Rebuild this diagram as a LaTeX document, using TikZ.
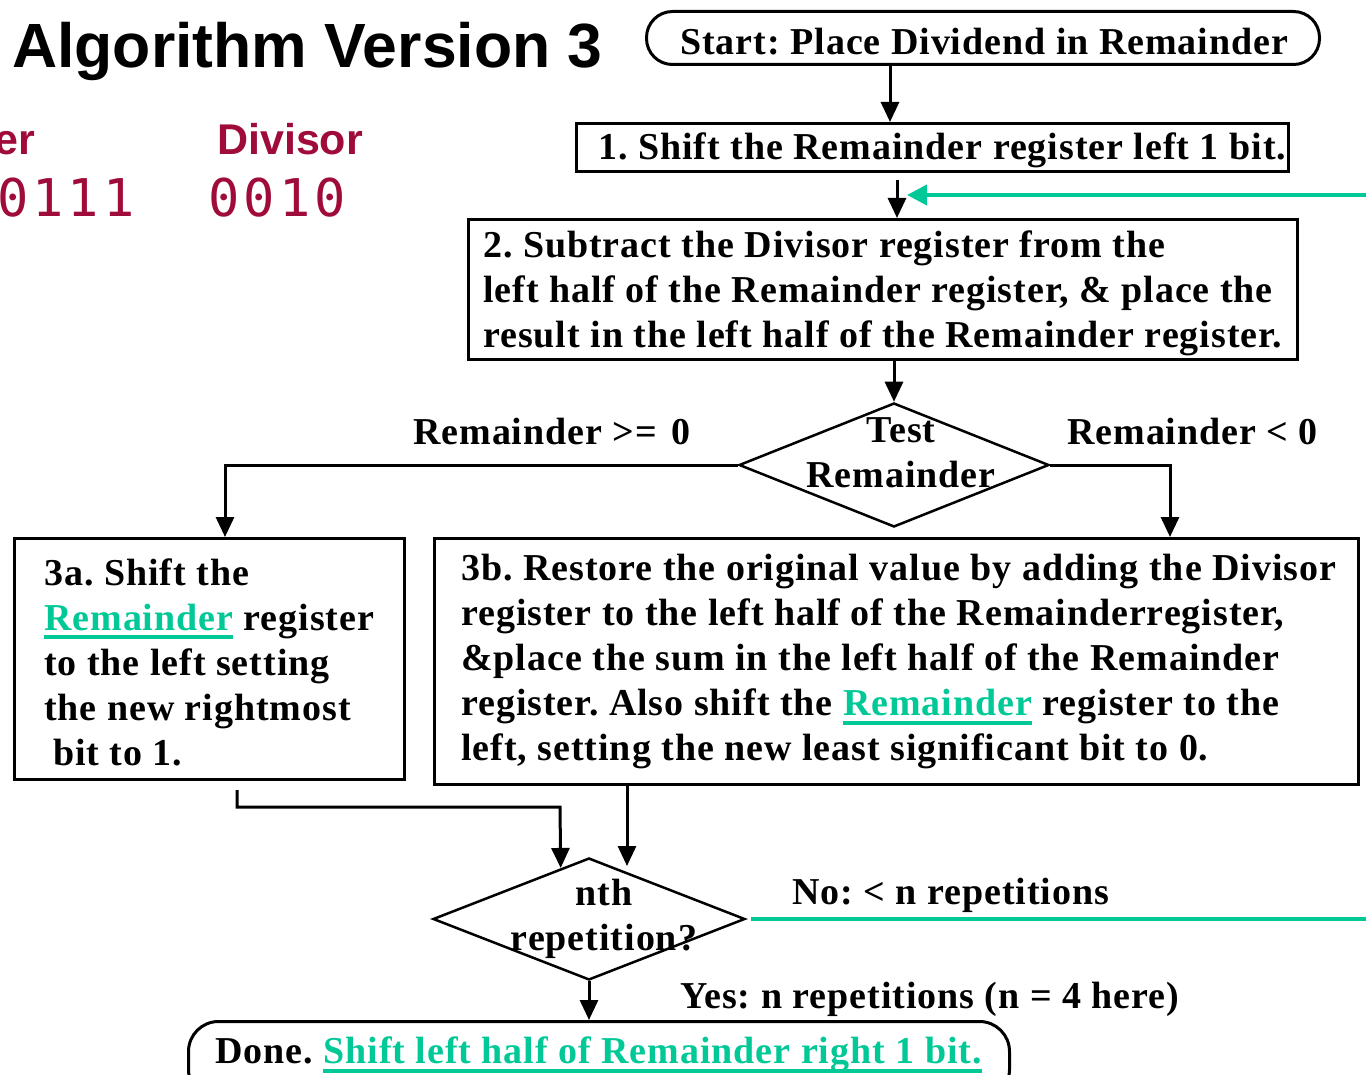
\documentclass[tikz,border=0pt]{standalone}
\usepackage{fontspec}
\setmainfont{Liberation Serif}
\newfontfamily\bodyfam[LetterSpace=2.5]{Liberation Serif}
\newfontfamily\headfont{Liberation Sans}
\newfontfamily\digitfont[LetterSpace=8]{DejaVu Sans Mono}
\usetikzlibrary{shapes.geometric,arrows.meta,calc}
\definecolor{grn}{RGB}{0,200,150}
\definecolor{regred}{RGB}{160,12,58}
% green text with a thick rule underneath
\newsavebox{\ulbox}
\newcommand{\grnul}[1]{{\color{grn}\sbox{\ulbox}{#1}\rlap{\rule[-9pt]{\wd\ulbox}{4pt}}\usebox{\ulbox}}}
\newcommand{\bodyfont}{\fontsize{38}{45}\selectfont\bodyfam\bfseries\frenchspacing}
\begin{document}
\begin{tikzpicture}[x=1pt,y=-1pt,
  body/.style={font=\bodyfont, inner sep=0pt, align=left},
  frame/.style={draw, line width=3pt, inner sep=0pt},
  decision/.style={draw, diamond, line width=2.5pt, inner sep=0pt},
  flow/.style={line width=3pt, -{Triangle[width=18pt,length=20pt]}},
  loopline/.style={draw=grn, line width=4pt},
  reg/.style={font=\fontsize{43}{43}\selectfont\headfont\bfseries, text=regred, inner sep=0pt},
  regnum/.style={font=\fontsize{52}{52}\selectfont\digitfont, text=regred, inner sep=0pt},
]
\useasboundingbox (0,0) rectangle (1366,1075);

% heading and register values
\node[font=\fontsize{62.5}{63}\selectfont\headfont\bfseries, anchor=base west, inner sep=0pt] (title) at (12,68) {Algorithm Version 3};
\node[reg, anchor=base east] (remlbl) at (35,155) {Remainder};
\node[reg, anchor=base west] (divlbl) at (217,155) {Divisor};
\node[regnum, anchor=base east] (remval) at (135,217) {0111};
\node[regnum, anchor=base west] (divval) at (208,217) {0010};

% start
\node[frame, rounded corners=26pt, minimum width=673pt, minimum height=53pt, anchor=north west] (start) at (645,10) {};
\node[body, anchor=west] (startt) at (680,42) {Start: Place Dividend in Remainder};

% step 1
\node[frame, minimum width=712pt, minimum height=48pt, anchor=north west] (s1) at (575,122) {};
\node[body, anchor=west] (s1t) at (598,150) {1. Shift the Remainder register left 1 bit.};

% step 2
\node[frame, minimum width=829pt, minimum height=140pt, anchor=north west] (s2) at (467,218) {};
\node[body, anchor=west] (s2t) at (483,293) {2. Subtract the Divisor register from the\\left half of the Remainder register, \& place the\\result in the left half of the Remainder register.};

% test remainder
\node[decision, minimum width=310pt, minimum height=124pt] (test) at (894,465) {};
\node[body, align=center] (testt) at (901,453) {Test\\Remainder};
\node[body, anchor=west] (geq) at (413,432) {Remainder >=\hspace{14pt}0};
\node[body, anchor=west] (lt) at (1067,432) {Remainder < 0};

% step 3a
\node[frame, minimum width=390pt, minimum height=241pt, anchor=north west] (s3a) at (13,537) {};
\node[body, anchor=west] (s3at) at (44,662) {3a. Shift the\\\grnul{Remainder} register\\to the left setting\\the new rightmost\\\hspace{9pt}bit to 1.};

% step 3b
\node[frame, minimum width=924pt, minimum height=246pt, anchor=north west] (s3b) at (433,537) {};
\node[body, anchor=west] (s3bt) at (461,662) {3b. Restore the original value by adding the Divisor\\register to the left half of the Remainderregister,\\\&place the sum in the left half of the Remainder\\register. Also shift the \grnul{Remainder} register to the\\left, setting the new least significant bit to 0.};

% repetition test
\node[decision, minimum width=312pt, minimum height=122pt] (nth) at (589,919) {};
\node[body, align=center] (ntht) at (604,919) {nth\\repetition?};
\node[body, anchor=west] (nolbl) at (792,895) {No: < n repetitions};
\node[body, anchor=west] (yeslbl) at (680,999) {Yes: n repetitions (n = 4 here)};

% done
\node[frame, rounded corners=30pt, minimum width=821pt, minimum height=78pt, anchor=north west] (done) at (187,1020) {};
\node[body, anchor=west] (donet) at (215,1055) {Done. \grnul{Shift left half of Remainder right 1 bit.}};

% connectors
\coordinate (merge) at (897,195);
\coordinate (loopin) at (1366,195);
\coordinate (loopout) at (1366,918);
\coordinate (join) at (560,807);
\coordinate (nthin) at ($(nth.west)!0.82!(nth.north)$);
\coordinate (nthin2) at (627,866);

\draw[flow] (890,0 |- start.south) -- (890,0 |- s1.north);
\draw[flow, shorten <=7pt] (897,0 |- s1.south) -- (897,0 |- s2.north);
\draw[loopline, -{Triangle[width=20pt,length=20pt]}] (loopin) -- ([xshift=10pt]merge);
\draw[flow] (s2.south -| test.north) -- (test.north);
\draw[flow] (test.west) -| (225,0 |- s3a.north);
\draw[flow] (test.east) -| (1170,0 |- s3b.north);
\draw[flow, shorten <=9pt] (237,0 |- s3a.south) -- (237,0 |- join) -- (join) -- (nthin);
\draw[flow] (nthin2 |- s3b.south) -- (nthin2);
\draw[loopline] ([xshift=5pt]nth.east) -- (nth.east -| loopout);
\draw[flow] (nth.south) -- (nth.south |- done.north);
\end{tikzpicture}
\end{document}
